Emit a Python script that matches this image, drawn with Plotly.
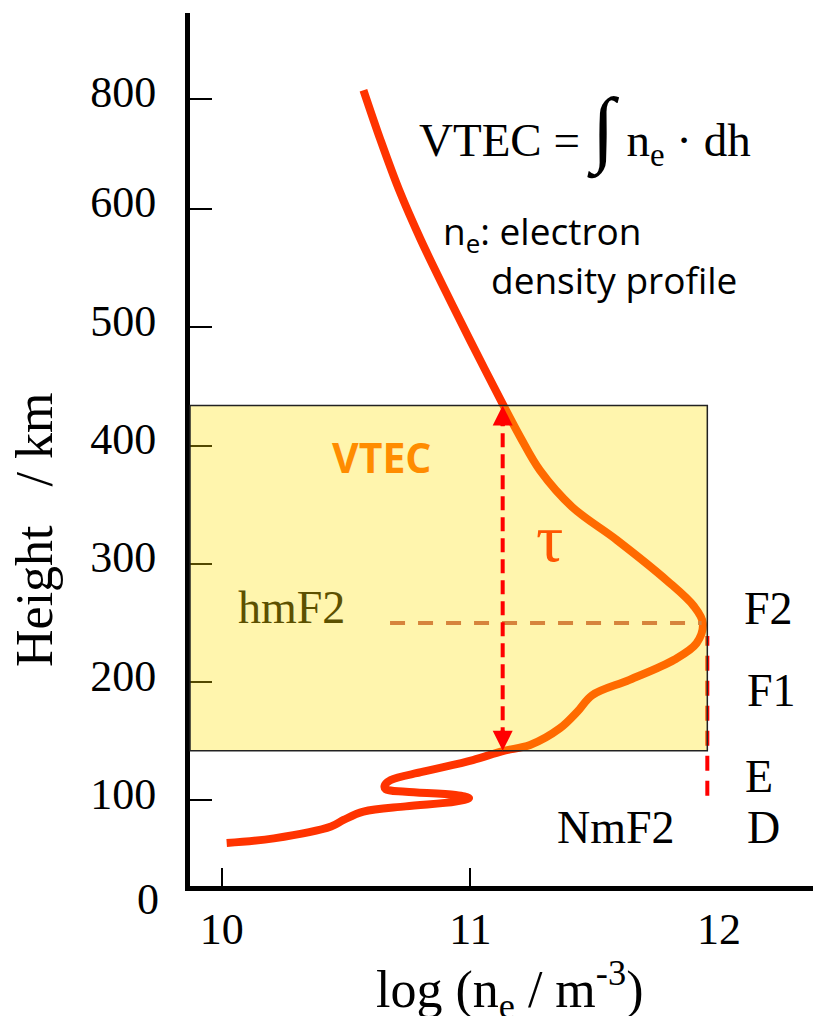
import plotly.graph_objects as go

# ---------------- data ----------------
# electron density profile: log10(ne / m^-3) versus height (km)
log_ne = [10.02, 10.21, 10.44, 10.49, 10.57, 10.74, 10.94, 10.995, 10.94, 10.74,
          10.66, 10.655, 10.68, 10.81, 11.01, 11.13, 11.24, 11.36, 11.43, 11.49,
          11.64, 11.82, 11.91, 11.935, 11.90, 11.79, 11.59, 11.41, 11.28, 11.20,
          11.133, 10.999, 10.898, 10.801, 10.714, 10.639, 10.570]
height_km = [64, 68, 78, 83.5, 90.5, 95, 99, 102, 104.6, 107.4,
             109.5, 112.3, 117.3, 124.3, 134.2, 141.8, 146.9, 161, 175, 189,
             202, 219, 233, 250, 264, 286, 320, 348, 379, 407.5,
             434, 489, 531.5, 573.8, 634, 725, 816]

hmF2 = 250          # km, height of the F2 peak
NmF2 = 11.953       # log10 of peak density
tau_top = 434       # km, upper limit of the VTEC slab
tau_bottom = 142    # km, lower limit of the VTEC slab
hmF2_line_start = 10.677

x_ticks = [10, 11, 12]
x_tick_labels = ["10", "11", "12"]
x_tick_marks = [10, 11]
y_ticks_km = [100, 200, 300, 400, 500, 600, 800]
y_tick_labels = ["100", "200", "300", "400", "500", "600", "800"]

# the drawn height axis is linear up to 600 km and compressed above it
BREAK_KM = 600
UPPER_FACTOR = 93 / 200


def axis_h(h):
    return h if h <= BREAK_KM else BREAK_KM + (h - BREAK_KM) * UPPER_FACTOR


X_RANGE = [9.8725, 12.378]
Y_RANGE = [27.7, 765.7]

SERIF = "Liberation Serif"
SANS = "Open Sans"

fig = go.Figure()

fig.add_trace(go.Scatter(
    x=log_ne, y=[axis_h(h) for h in height_km], mode="lines",
    line=dict(color="#FF3300", width=8, shape="spline", smoothing=1.0),
    hoverinfo="skip"))
# carrier trace for the tick-mark axis
fig.add_trace(go.Scatter(x=[], y=[], xaxis="x2", yaxis="y", mode="lines",
                         hoverinfo="skip"))

# NmF2 dashed line (under the translucent slab)
fig.add_shape(type="line", xref="x", yref="y", x0=NmF2, x1=NmF2,
              y0=104, y1=239, line=dict(color="#FF0000", width=4, dash="15px,10px"),
              layer="above")
# translucent VTEC slab
fig.add_shape(type="rect", xref="paper", yref="y", x0=0,
              x1=(NmF2 - X_RANGE[0]) / (X_RANGE[1] - X_RANGE[0]),
              y0=tau_bottom, y1=tau_top, fillcolor="rgba(255,223,0,0.32)",
              line=dict(color="#222222", width=1.5), layer="above")
# hmF2 dashed line
fig.add_shape(type="line", xref="x", yref="y", x0=hmF2_line_start, x1=11.93,
              y0=hmF2, y1=hmF2, line=dict(color="#D6843C", width=4, dash="15px,13px"),
              layer="above")
# tau dashed arrow
fig.add_shape(type="line", xref="x", yref="y", x0=11.13, x1=11.13,
              y0=tau_bottom + 8, y1=tau_top - 8,
              line=dict(color="#FF0000", width=4, dash="14px,7px"), layer="above")

ann = []
for tip, off in [(tau_top, 22), (tau_bottom, -22)]:
    ann.append(dict(x=11.13, y=tip, xref="x", yref="y", text="", showarrow=True,
                    ax=0, ay=off, arrowhead=2, arrowsize=1.0, arrowwidth=4,
                    arrowcolor="#FF0000", standoff=0))


def label(text, x, y, size, color="black", family=SERIF, xanchor="center", **kw):
    ann.append(dict(x=x, y=y, xref="x", yref="y", text=text, showarrow=False,
                    xanchor=xanchor, yanchor="middle",
                    font=dict(family=family, size=size, color=color), **kw))


label("VTEC = <span style='font-size:84px'>∫</span> n<sub>e</sub> · dh", 10.785, 667, 47, xanchor="left")
label("n<sub>e</sub>: electron", 10.882, 580, 37, family=SANS, xanchor="left")
label("density profile", 11.075, 540, 37, family=SANS, xanchor="left")
label("<b>VTEC</b>", 10.641, 390, 41, color="#FF8C00", family=SANS)
label("τ", 11.317, 322, 68, color="#FF5500")
label("hmF2", 10.28, 263, 46, color="#5C5000")
label("F2", 12.093, 262, 46, xanchor="left")
label("F1", 12.105, 193, 46, xanchor="left")
label("E", 12.097, 120, 46, xanchor="left")
label("D", 12.105, 77, 46, xanchor="left")
label("NmF2", 11.586, 77, 46)

ann.append(dict(x=-0.0674, y=-0.016, xref="paper", yref="paper", text="0", showarrow=False,
                xanchor="center", yanchor="middle", font=dict(family=SERIF, size=44, color="black")))
ann.append(dict(x=-0.2488, y=0.4078, xref="paper", yref="paper",
                text="Height &nbsp;&nbsp;/ km",
                showarrow=False, textangle=-90, xanchor="center", yanchor="middle",
                font=dict(family=SERIF, size=52, color="black")))
ann.append(dict(x=0.5136, y=-0.119, xref="paper", yref="paper",
                text="log (n<sub>e</sub> / m<sup>-3</sup>)", showarrow=False,
                xanchor="center", yanchor="middle", font=dict(family=SERIF, size=52, color="black")))

fig.update_layout(
    width=813, height=1016,
    margin=dict(l=190, r=0, t=13, b=130),
    plot_bgcolor="white", paper_bgcolor="white",
    showlegend=False,
    annotations=ann,
    xaxis=dict(range=X_RANGE, tickvals=x_ticks, ticktext=x_tick_labels, ticks="",
               showline=True, linewidth=5, linecolor="black", showgrid=False, zeroline=False,
               tickfont=dict(family=SERIF, size=44, color="black"), ticklabelstandoff=0),
    xaxis2=dict(range=X_RANGE, overlaying="x", side="bottom", anchor="y", tickvals=x_tick_marks,
                ticks="inside", ticklen=18, tickwidth=1.5, tickcolor="black",
                showticklabels=False, showline=False, showgrid=False, zeroline=False),
    yaxis=dict(range=Y_RANGE, tickvals=[axis_h(h) for h in y_ticks_km], ticktext=y_tick_labels,
               ticks="inside", ticklen=22, tickwidth=2, tickcolor="black",
               showline=True, linewidth=5, linecolor="black", showgrid=False, zeroline=False,
               tickfont=dict(family=SERIF, size=44, color="black"),
               ticklabelstandoff=20, ticklabelshift=-7),
)

fig.write_html("out.html", config={"displayModeBar": False},
               post_script="document.body.style.margin='0px';")
